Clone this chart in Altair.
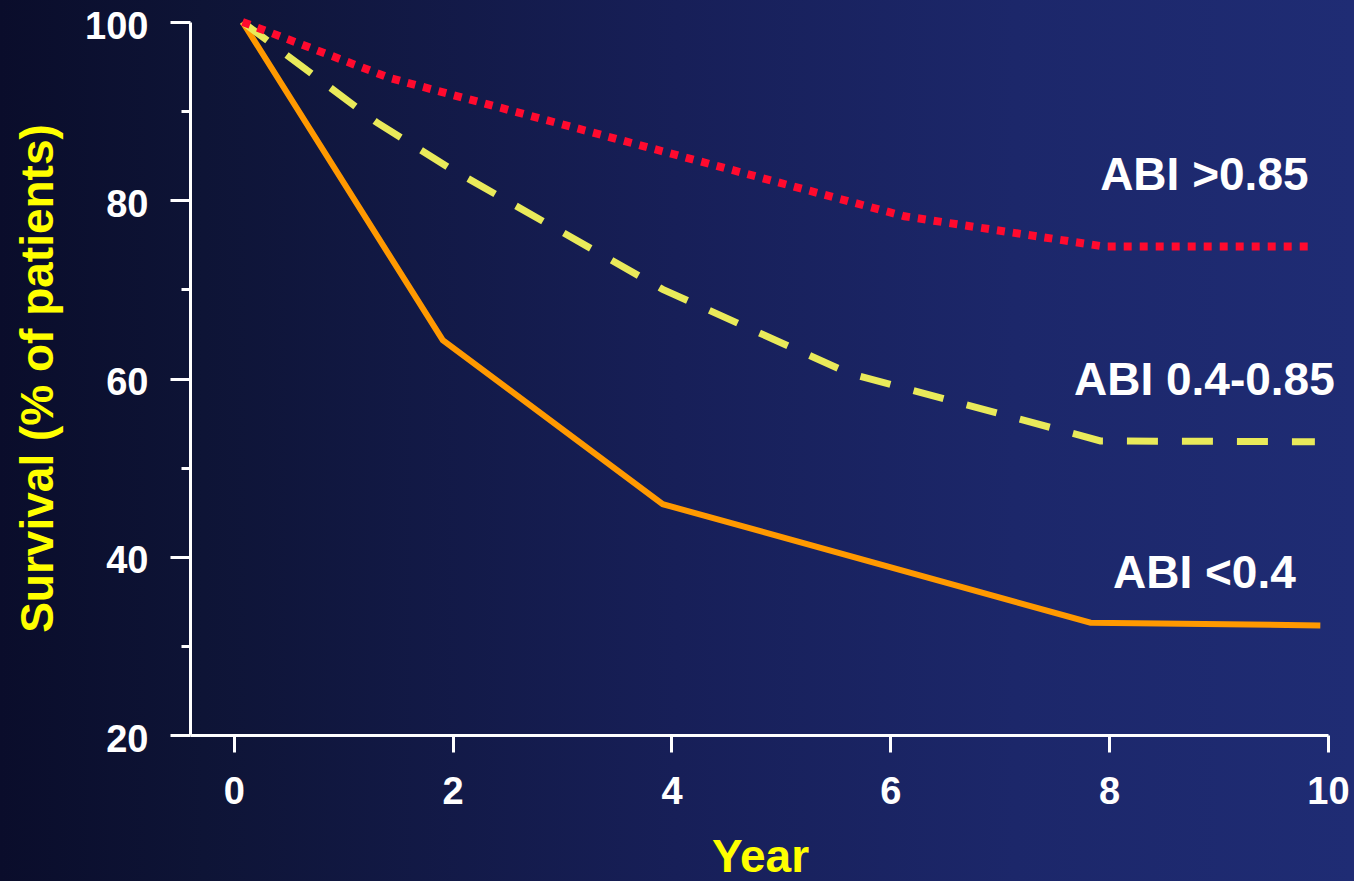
import altair as alt
import pandas as pd

# Survival curves by ankle-brachial index group
YEARS_LOW = [0.08, 1.91, 3.92, 7.83, 9.93]
SURV_LOW = [100, 64.3, 45.9, 32.6, 32.3]

YEARS_MID = [0.08, 1.31, 1.96, 3.92, 5.62, 7.92, 9.88]
SURV_MID = [100, 88.7, 83.7, 70.0, 60.6, 53.0, 52.9]

YEARS_HIGH = [0.08, 1.43, 6.13, 7.96, 9.86]
SURV_HIGH = [100, 93.7, 78.2, 74.8, 74.8]

SERIES = ["ABI <0.4", "ABI 0.4-0.85", "ABI >0.85"]

# Year axis ticks and survival axis ticks
X_TICKS = [0, 2, 4, 6, 8, 10]
Y_TICKS = [20, 30, 40, 50, 60, 70, 80, 90, 100]

# Where each group's caption sits (year, survival %)
LABEL_YEAR = [8.87, 8.87, 8.87]
LABEL_SURV = [36.5, 58.1, 81.1]

FONT = "Liberation Sans"
W, H = 1138, 713
PAD = {"left": 190, "top": 22, "right": 26, "bottom": 146}

rows = []
for name, xs, ys in zip(SERIES, [YEARS_LOW, YEARS_MID, YEARS_HIGH],
                        [SURV_LOW, SURV_MID, SURV_HIGH]):
    for i, (x, y) in enumerate(zip(xs, ys)):
        rows.append({"group": name, "year": x, "survival": y, "order": i})
curves = pd.DataFrame(rows)
labels = pd.DataFrame({"group": SERIES, "year": LABEL_YEAR, "survival": LABEL_SURV})

x_enc = alt.X(
    "year:Q",
    scale=alt.Scale(domain=[-0.4, 10], nice=False, zero=False),
    axis=alt.Axis(
        values=X_TICKS, format="d", title="Year", grid=False,
        domainColor="white", domainWidth=3,
        tickColor="white", tickWidth=3, tickSize=17,
        labelColor="white", labelFont=FONT, labelFontWeight="bold",
        labelFontSize=38, labelPadding=21, labelFlush=False,
        titleColor="#ffff00", titleFont=FONT, titleFontWeight="bold",
        titleFontSize=46, titleX=570, titleY=136, titleAlign="center",
        titleBaseline="alphabetic", zindex=1,
    ),
)
y_enc = alt.Y(
    "survival:Q",
    scale=alt.Scale(domain=[20, 100], nice=False, zero=False),
    axis=alt.Axis(
        values=Y_TICKS, title="Survival (% of patients)", grid=False,
        labelExpr="datum.value % 20 === 0 ? datum.label : ''",
        domainColor="white", domainWidth=3,
        tickColor="white", tickWidth=3,
        tickSize={"condition": {"test": "datum.value % 20 === 0", "value": 20}, "value": 9},
        labelColor="white", labelFont=FONT, labelFontWeight="bold",
        labelFontSize=38, labelPadding=22, labelOffset=5,
        titleColor="#ffff00", titleFont=FONT, titleFontWeight="bold",
        titleFontSize=46, titleAngle=270, titleX=-138, titleY=356,
        titleAlign="center", titleBaseline="alphabetic", zindex=1,
    ),
)

backdrop = alt.Chart(pd.DataFrame({"k": [0]})).mark_rect(
    color={
        "gradient": "linear", "x1": 0, "y1": 0, "x2": 1, "y2": 0,
        "stops": [
            {"offset": 0.0, "color": "#0a0d2b"},
            {"offset": 0.15, "color": "#0e1436"},
            {"offset": 0.5, "color": "#171f58"},
            {"offset": 0.75, "color": "#1c276a"},
            {"offset": 1.0, "color": "#1f2c74"},
        ],
    }
).encode(
    x=alt.value(-PAD["left"]), x2=alt.value(W + PAD["right"]),
    y=alt.value(-PAD["top"]), y2=alt.value(H + PAD["bottom"]),
)

styles = {
    "ABI <0.4": dict(color="#ff9900", strokeWidth=6),
    "ABI 0.4-0.85": dict(color="#e9ea5a", strokeWidth=7, strokeDash=[31, 24]),
    "ABI >0.85": dict(color="#ff0a2e", strokeWidth=8, strokeDash=[8, 8]),
}

line_layers = []
for name in SERIES:
    line_layers.append(
        alt.Chart(curves[curves["group"] == name])
        .mark_line(strokeCap="butt", strokeJoin="miter", **styles[name])
        .encode(x=x_enc, y=y_enc, order="order:O")
    )

captions = alt.Chart(labels).mark_text(
    font=FONT, fontSize=46, fontWeight="bold", color="white",
    align="center", baseline="alphabetic",
).encode(x=x_enc, y=y_enc, text="group:N")

chart = alt.layer(backdrop, *line_layers, captions).properties(
    width=W, height=H, padding=PAD,
    autosize=alt.AutoSizeParams(type="none"),
).configure(background="#0b0f2e").configure_view(strokeOpacity=0)

chart.save("out.html", embed_options={"renderer": "svg", "actions": False})
